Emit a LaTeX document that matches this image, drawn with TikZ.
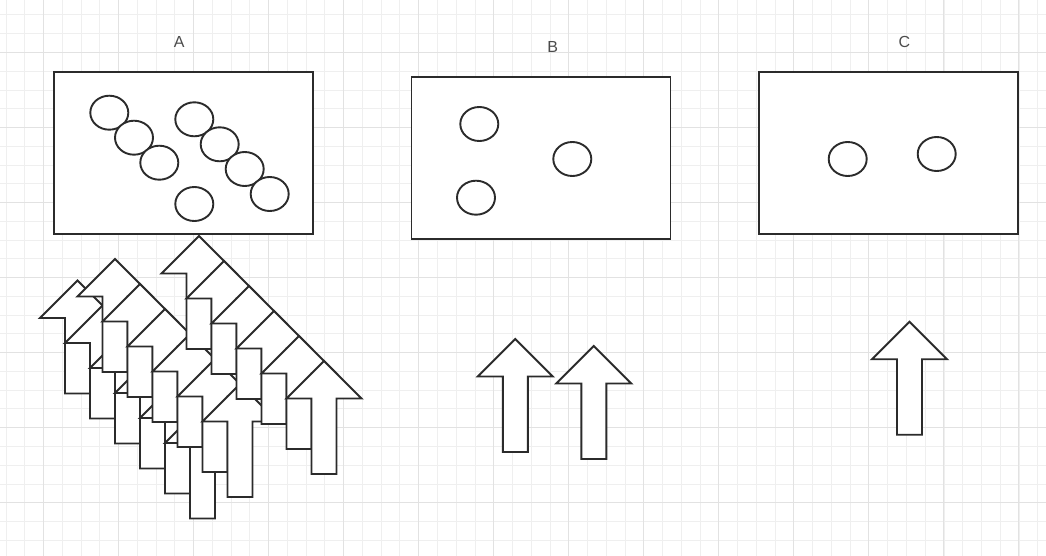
\documentclass[tikz,border=0pt]{standalone}
\usepackage{fontspec}
\setmainfont{Liberation Sans}
\usetikzlibrary{shapes.geometric}

\definecolor{ink}{HTML}{2B2B2B}
\definecolor{minorgrid}{HTML}{EFEFEF}
\definecolor{majorgrid}{HTML}{E2E2E2}

\tikzset{
	box/.style={draw=ink, line width=1.9pt, fill=white, minimum width=259pt, minimum height=162pt, inner sep=0pt},
	ball/.style={ellipse, draw=ink, line width=1.9pt, fill=white, minimum width=38pt, minimum height=34pt, inner sep=0pt},
	tag/.style={text=ink!85, font=\fontsize{16}{16}\selectfont, inner sep=0pt},
	gridline/.style={line width=1pt},
	uparr/.pic={
		\draw[draw=ink, line width=1.9pt, fill=white, line join=miter]
			(0,0) -- (37.5,37.5) -- (12.5,37.5) -- (12.5,113) -- (-12.5,113)
			-- (-12.5,37.5) -- (-37.5,37.5) -- cycle;
	}
}

\begin{document}
\begin{tikzpicture}[x=1pt, y=-1pt]
	\useasboundingbox (0,0) rectangle (1046,556);
	\fill[white] (0,0) rectangle (1046,556);

	\foreach \i in {0,...,55}
		\draw[gridline, minorgrid] ({6+18.76*\i},0) -- ({6+18.76*\i},556);
	\foreach \j in {0,...,28}
		\draw[gridline, minorgrid] (0,{15+18.76*\j}) -- (1046,{15+18.76*\j});
	\foreach \i in {0,...,13}
		\draw[gridline, majorgrid] ({43.3+75.04*\i},0) -- ({43.3+75.04*\i},556);
	\foreach \j in {0,...,6}
		\draw[gridline, majorgrid] (0,{52.3+75.04*\j}) -- (1046,{52.3+75.04*\j});

	\node[tag] (labA) at (179.3,42.3) {A};
	\node[tag] (labB) at (552.7,47.3) {B};
	\node[tag] (labC) at (904.3,41.7) {C};

	\node[box] (boxA) at (183.3,153) {};
	\node[box] (boxB) at (541,158) {};
	\node[box] (boxC) at (888.7,153) {};

	\node[ball] (a1) at (109.3,112.7) {};
	\node[ball] (a2) at (134,137.7) {};
	\node[ball] (a3) at (159.3,162.7) {};
	\node[ball] (a4) at (194.3,119.3) {};
	\node[ball] (a5) at (219.7,144.3) {};
	\node[ball] (a6) at (244.7,169) {};
	\node[ball] (a7) at (269.7,194) {};
	\node[ball] (a8) at (194.3,204) {};

	\node[ball] (b1) at (479.3,124) {};
	\node[ball] (b2) at (572.3,159) {};
	\node[ball] (b3) at (476,197.7) {};

	\node[ball] (c1) at (847.7,159) {};
	\node[ball] (c2) at (936.7,154) {};

	\foreach \k in {0,...,5}
		\pic at ({77.5+25*\k},{280.5+25*\k}) {uparr};
	\foreach \k in {0,...,5}
		\pic at ({115+25*\k},{259+25*\k}) {uparr};
	\foreach \k in {0,...,5}
		\pic at ({199+25*\k},{236+25*\k}) {uparr};

	\pic at (515.3,339) {uparr};
	\pic at (593.8,346) {uparr};
	\pic at (909.5,321.7) {uparr};
\end{tikzpicture}
\end{document}
